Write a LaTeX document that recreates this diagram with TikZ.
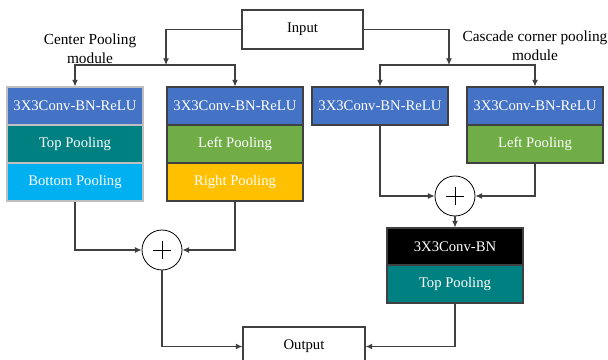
\documentclass[tikz,border=0pt]{standalone}
\usepackage{fontspec}
\setmainfont{Liberation Serif}
\usetikzlibrary{arrows.meta}
\definecolor{convblue}{HTML}{4472C4}
\definecolor{poolteal}{HTML}{008080}
\definecolor{poolgreen}{HTML}{70AD47}
\definecolor{poolyellow}{HTML}{FFC000}
\definecolor{poolcyan}{HTML}{00B0F0}
\definecolor{edgegray}{HTML}{404040}
\tikzset{
  blk/.style={rectangle, draw=edgegray, line width=0.8pt, text=white,
    minimum width=136*0.75pt, minimum height=38*0.75pt, inner sep=0pt,
    font=\fontsize{11}{13}\selectfont},
  softblk/.style={blk, draw=black!25},
  plainbox/.style={rectangle, draw=edgegray, line width=0.8pt, fill=white,
    minimum width=121*0.75pt, minimum height=39*0.75pt, inner sep=0pt,
    font=\fontsize{11}{13}\selectfont},
  adder/.style={circle, draw=black, line width=0.6pt, minimum size=40*0.75pt, inner sep=0pt,
    path picture={\draw[line width=0.6pt] ([xshift=-6.5pt]path picture bounding box.center) -- ([xshift=6.5pt]path picture bounding box.center);
                  \draw[line width=0.6pt] ([yshift=-6.5pt]path picture bounding box.center) -- ([yshift=6.5pt]path picture bounding box.center);}},
  link/.style={draw=edgegray, line width=0.8pt},
  arr/.style={link, -{Latex[length=5pt,width=4.5pt]}},
  lbl/.style={align=center, font=\fontsize{11.5}{14.5}\selectfont}
}
\begin{document}
\begin{tikzpicture}[x=0.75pt, y=-0.75pt]
\useasboundingbox (0,0) rectangle (608,360);
\clip (0,0) rectangle (608,360);

% input / output
\node[plainbox] (in) at (302.5,29.5) {Input};
\node[plainbox, minimum width=122*0.75pt] (out) at (304,346.5) {Output};

% center pooling branch
\node[softblk, fill=convblue]  (a1) at (75,106) {3X3Conv-BN-ReLU};
\node[softblk, fill=poolteal]  (a2) at (75,144) {Top Pooling};
\node[softblk, fill=poolcyan]  (a3) at (75,182) {Bottom Pooling};
\node[blk, fill=convblue]   (b1) at (235,106) {3X3Conv-BN-ReLU};
\node[blk, fill=poolgreen]  (b2) at (235,144) {Left Pooling};
\node[blk, fill=poolyellow] (b3) at (235,182) {Right Pooling};

% cascade corner pooling branch
\node[blk, fill=convblue]  (c1) at (380,106) {3X3Conv-BN-ReLU};
\node[blk, fill=convblue]  (d1) at (535,106) {3X3Conv-BN-ReLU};
\node[blk, fill=poolgreen] (d2) at (535,144) {Left Pooling};
\node[blk, fill=black, minimum height=37*0.75pt] (e1) at (455,246.5) {3X3Conv-BN};
\node[blk, fill=poolteal] (e2) at (455,284) {Top Pooling};

% adders
\node[adder] (pl) at (162,250) {};
\node[adder] (pr) at (455,196) {};

% module labels
\node[lbl] (lc) at (90,49) {Center Pooling\\module};
\node[lbl] (lr) at (535,46) {Cascade corner pooling\\module};

% fan-out from the input
\coordinate (jl) at (166,65);
\coordinate (jr) at (449,65);
\draw[arr] (in.west) -| (jl);
\draw[arr] (in.east) -| (jr);
\draw[arr] (jl) -| (a1.north);
\draw[arr] (jl) -| (b1.north);
\draw[arr] (jr) -| (c1.north);
\draw[arr] (jr) -| (d1.north);

% merging
\draw[arr] (a3.south) |- (pl.west);
\draw[arr] (b3.south) |- (pl.east);
\draw[arr] (c1.south) |- (pr.west);
\draw[arr] (d2.south) |- (pr.east);
\draw[arr] (pr.south) -- (e1.north);
\draw[arr] (pl.south) |- (out.west);
\draw[arr] (e2.south) |- (out.east);
\end{tikzpicture}
\end{document}
